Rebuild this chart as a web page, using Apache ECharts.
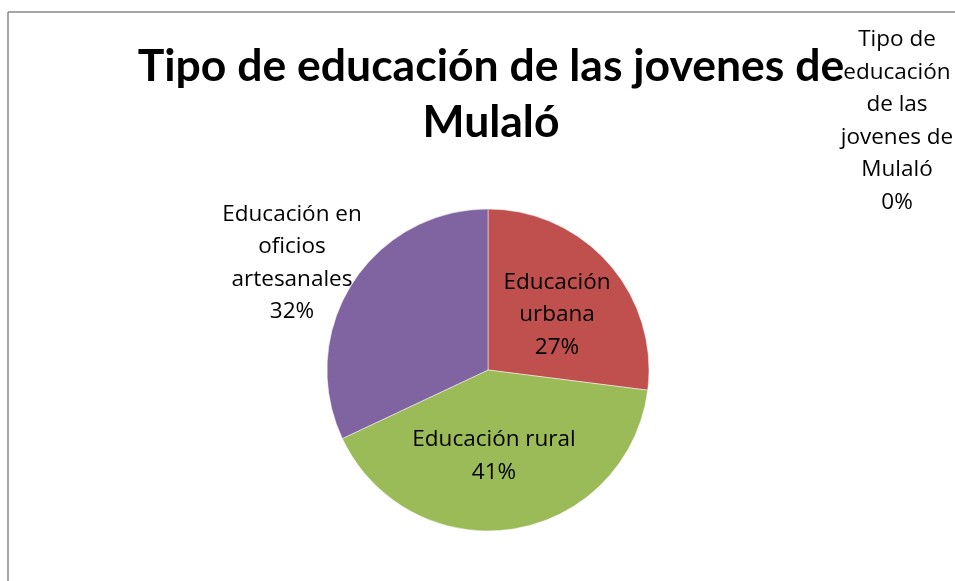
<!DOCTYPE html>
<html><head><meta charset="utf-8">
<script src="https://cdn.jsdelivr.net/npm/echarts@6/dist/echarts.min.js"></script>
<style>html,body{margin:0;padding:0;background:#fff}#c{width:955px;height:581px}</style>
</head><body><div id="c"></div>
<script>
const titleText = "Tipo de educación de las jovenes de\nMulaló";
const categories = ["Tipo de educación de las jovenes de Mulaló", "Educación urbana", "Educación rural", "Educación en oficios artesanales"];
const labelNames = ["Tipo de\neducación\nde las\njovenes de\nMulaló", "Educación\nurbana", "Educación rural", "Educación en\noficios\nartesanales"];
const values = [0, 27, 41, 32];
const colors = ["#4F81BD", "#C0504D", "#9BBB59", "#8064A2"];

const chart = echarts.init(document.getElementById('c'));
chart.setOption({
  backgroundColor: '#fff',
  animation: false,
  title: {
    text: titleText, left: 486, top: 34, textAlign: 'center',
    textStyle: { fontFamily: "Lato, sans-serif", fontWeight: 'bold', fontSize: 44.5, lineHeight: 56, color: '#000' }
  },
  graphic: [
    { type: 'line', shape: { x1: 8, y1: 12, x2: 955, y2: 12 }, style: { stroke: '#888', lineWidth: 1.5 } },
    { type: 'line', shape: { x1: 8, y1: 12, x2: 8, y2: 581 }, style: { stroke: '#888', lineWidth: 1.5 } }
  ],
  series: [{
    type: 'pie',
    center: [488, 370],
    radius: 161,
    startAngle: 90,
    clockwise: true,
    avoidLabelOverlap: false,
    itemStyle: { borderColor: 'rgba(255,255,255,0.6)', borderWidth: 0.8 },
    label: {
      show: true,
      fontFamily: "'Open Sans', sans-serif", fontSize: 22.5, lineHeight: 32.5, color: '#000', align: 'center',
      formatter: p => labelNames[p.dataIndex] + '\n' + Math.round(p.percent) + '%'
    },
    labelLine: { show: false },
    labelLayout: function (p) {
      const pos = [[897, 121], [557, 315], [494, 456], [292, 263]];
      return { x: pos[p.dataIndex][0], y: pos[p.dataIndex][1], align: 'center', verticalAlign: 'middle' };
    },
    data: categories.map((c, i) => ({ name: c, value: values[i], itemStyle: { color: colors[i] } }))
  }]
});
</script></body></html>
